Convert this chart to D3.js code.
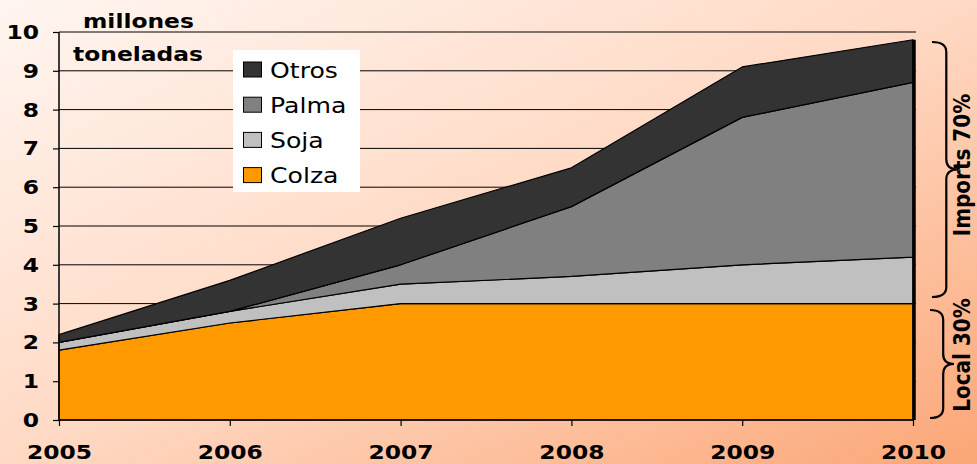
<!DOCTYPE html>
<html><head><meta charset="utf-8">
<script src="https://cdn.jsdelivr.net/npm/d3@7"></script>
<style>html,body{margin:0;padding:0;overflow:hidden;}svg{display:block;}</style>
</head><body><svg id="c" width="977" height="464"></svg>
<script>
const years = [2005, 2006, 2007, 2008, 2009, 2010];
const colza = [1.8, 2.5, 3.0, 3.0, 3.0, 3.0];
const soja  = [0.2, 0.3, 0.5, 0.7, 1.0, 1.2];
const palma = [0.0, 0.0, 0.5, 1.8, 3.8, 4.5];
const otros = [0.2, 0.8, 1.2, 1.0, 1.3, 1.1];
const seriesNames = ["Colza", "Soja", "Palma", "Otros"];
const seriesColors = ["#ff9900", "#c0c0c0", "#808080", "#333333"];
const yTicks = [0,1,2,3,4,5,6,7,8,9,10];

const svg = d3.select("#c");
const W = 977, H = 464;
const SX = 1.17; // horizontal stretch of the original lettering
const fontFam = "'DejaVu Sans',Verdana,sans-serif";

const defs = svg.append("defs");
const grad = defs.append("linearGradient").attr("id","bg").attr("x1","0").attr("y1","0").attr("x2","1").attr("y2","1");
grad.append("stop").attr("offset","0%").attr("stop-color","#fff6f1");
grad.append("stop").attr("offset","50%").attr("stop-color","#ffd9c4");
grad.append("stop").attr("offset","100%").attr("stop-color","#fba676");
svg.append("rect").attr("width",W).attr("height",H).attr("fill","url(#bg)");

const x = d3.scaleLinear().domain([2005,2010]).range([59,913]);
const y = d3.scaleLinear().domain([0,10]).range([420,32]);

const table = years.map((yr,i)=>({year:yr, Colza:colza[i], Soja:soja[i], Palma:palma[i], Otros:otros[i]}));
const stack = d3.stack().keys(seriesNames)(table);

// gridlines
svg.append("g").selectAll("line").data(yTicks.filter(d=>d>0)).join("line")
  .attr("x1",59).attr("x2",916).attr("y1",d=>y(d)).attr("y2",d=>y(d))
  .attr("stroke","#000").attr("stroke-width",1);

const area = d3.area().x(d=>x(d.data.year)).y0(d=>y(d[0])).y1(d=>y(d[1]));
svg.append("g").selectAll("path").data(stack).join("path")
  .attr("d",area).attr("fill",(d,i)=>seriesColors[i])
  .attr("stroke","#000").attr("stroke-width",1.2).attr("stroke-linejoin","round");

// thick right edge
const lastTotal = stack[stack.length-1][years.length-1][1];
svg.append("line").attr("x1",x(2010)+1).attr("x2",x(2010)+1)
  .attr("y1",y(lastTotal)).attr("y2",y(0)).attr("stroke","#000").attr("stroke-width",3.5);

// axes
const yAxis = svg.append("g").attr("transform","translate(59,0)")
  .call(d3.axisLeft(y).tickValues(yTicks).tickSize(6).tickPadding(8).tickFormat(d3.format("d")));
yAxis.select(".domain").attr("stroke","#000").attr("stroke-width",1.5).attr("d","M0,32V420");
yAxis.selectAll("line").attr("stroke","#000").attr("stroke-width",1.2);
yAxis.selectAll("text").attr("x",0).attr("transform",`translate(-20,0) scale(${SX},1)`)
  .attr("font-family",fontFam).attr("font-weight","bold").attr("font-size",20).attr("fill","#000");

const xAxis = svg.append("g").attr("transform","translate(0,420)")
  .call(d3.axisBottom(x).tickValues(years).tickSize(6).tickPadding(19).tickFormat(d3.format("d")));
xAxis.select(".domain").attr("stroke","#000").attr("stroke-width",1.5).attr("d","M59,0H913");
xAxis.selectAll("line").attr("stroke","#000").attr("stroke-width",1.2);
xAxis.selectAll("text").attr("transform",`scale(${SX},1)`)
  .attr("font-family",fontFam).attr("font-weight","bold").attr("font-size",20).attr("fill","#000");

// unit label
function stretchedText(px, py, txt, size, weight){
  return svg.append("text").attr("transform",`translate(${px},${py}) scale(${SX},1)`).text(txt)
    .attr("font-family",fontFam).attr("font-weight",weight).attr("font-size",size).attr("fill","#000");
}
stretchedText(83, 28, "millones", 20, "bold");
stretchedText(73, 61, "toneladas", 20, "bold");

// legend
const lg = svg.append("g");
lg.append("rect").attr("x",233).attr("y",50).attr("width",127).attr("height",142).attr("fill","#fff");
const legOrder = [3,2,1,0];
legOrder.forEach((si,k)=>{
  const cy = 69.5 + k*35.2;
  lg.append("rect").attr("x",243.5).attr("y",cy-7.5).attr("width",18).attr("height",15)
    .attr("fill",seriesColors[si]).attr("stroke","#000").attr("stroke-width",1);
  stretchedText(270, cy+8, seriesNames[si], 21.5, "normal");
});

// braces
function brace(x0, yTop, yBot, w){
  const ym = (yTop+yBot)/2, r = 10;
  const xm = x0 + w*0.55;
  return `M${x0},${yTop} Q${xm},${yTop} ${xm},${yTop+r} L${xm},${ym-r} Q${xm},${ym} ${x0+w},${ym}` +
         ` Q${xm},${ym} ${xm},${ym+r} L${xm},${yBot-r} Q${xm},${yBot} ${x0},${yBot}`;
}
svg.append("path").attr("d",brace(932,42,297,26)).attr("fill","none").attr("stroke","#000").attr("stroke-width",2.2);
svg.append("path").attr("d",brace(930,310,418,24)).attr("fill","none").attr("stroke","#000").attr("stroke-width",2.2);

svg.append("text").attr("transform",`translate(970,165) rotate(-90) scale(1,${SX})`).attr("text-anchor","middle")
  .text("Imports 70%").attr("font-family",fontFam).attr("font-weight","bold").attr("font-size",20).attr("fill","#000");
svg.append("text").attr("transform",`translate(970,355) rotate(-90) scale(1,${SX})`).attr("text-anchor","middle")
  .text("Local 30%").attr("font-family",fontFam).attr("font-weight","bold").attr("font-size",20).attr("fill","#000");
</script></body></html>
